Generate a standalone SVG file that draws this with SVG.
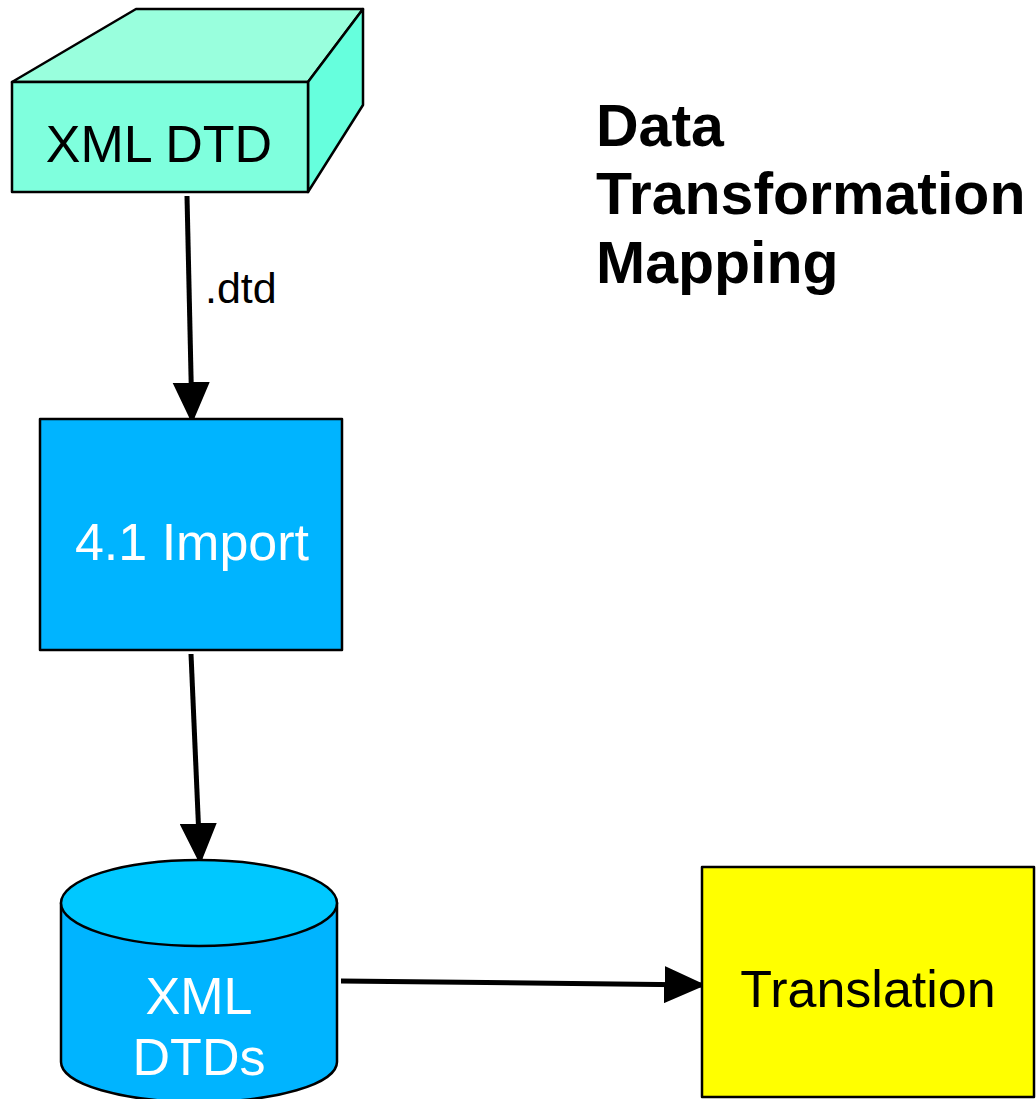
<svg xmlns="http://www.w3.org/2000/svg" width="1036" height="1099" viewBox="0 0 1036 1099">
<defs>
<style>
.lbl{font-family:"Liberation Sans",Arial,sans-serif;font-size:52px;text-anchor:middle}
.w{fill:#ffffff}
.k{fill:#000000}
.title{font-family:"Liberation Sans",Arial,sans-serif;font-size:59px;font-weight:bold;fill:#000}
.edge{stroke:#000;stroke-width:5;fill:none}
.sh{stroke:#000;stroke-width:2.5;stroke-linejoin:round}
</style>
<marker id="ah" viewBox="0 0 10 10" refX="10" refY="5" markerWidth="7.5" markerHeight="7.5" markerUnits="strokeWidth" orient="auto">
<path d="M0,0.5 L10,5 L0,9.5 Z" fill="#000" stroke="#000" stroke-width="0.8" stroke-linejoin="round"/>
</marker>
</defs>
<rect width="1036" height="1099" fill="#ffffff"/>
<g id="title">
<text class="title" x="596" y="146">Data</text>
<text class="title" x="596" y="214">Transformation</text>
<text class="title" x="596" y="283">Mapping</text>
</g>
<g id="connectors">
<line class="edge" x1="187" y1="196" x2="192" y2="420" marker-end="url(#ah)"/>
<text x="205" y="303" font-family="Liberation Sans,Arial,sans-serif" font-size="43" fill="#000">.dtd</text>
<line class="edge" x1="191" y1="654" x2="200" y2="861" marker-end="url(#ah)"/>
<line class="edge" x1="341" y1="981" x2="702" y2="985" marker-end="url(#ah)"/>
</g>
<g id="xml-dtd">
<polygon class="sh" points="12,82 136,9 363,9 308,82" fill="#99FFDD"/>
<polygon class="sh" points="308,82 363,9 363,105 308,192" fill="#66FFDD"/>
<rect class="sh" x="12" y="82" width="296" height="110" fill="#7FFFDD"/>
<text class="lbl k" x="159" y="162">XML DTD</text>
</g>
<g id="import">
<rect class="sh" x="40" y="419" width="302" height="231" fill="#00B4FF"/>
<text class="lbl w" x="192" y="560">4.1 Import</text>
</g>
<g id="xml-dtds">
<path class="sh" d="M61,903 L61,1062 A138,40 0 0 0 337,1062 L337,903 Z" fill="#00B4FF"/>
<ellipse class="sh" cx="199" cy="903" rx="138" ry="43" fill="#00C8FF"/>
<text class="lbl w" x="199" y="1014">XML</text>
<text class="lbl w" x="199" y="1075">DTDs</text>
</g>
<g id="translation">
<rect class="sh" x="702" y="867" width="332" height="230" fill="#FFFF00"/>
<text class="lbl k" x="868" y="1007">Translation</text>
</g>
</svg>
